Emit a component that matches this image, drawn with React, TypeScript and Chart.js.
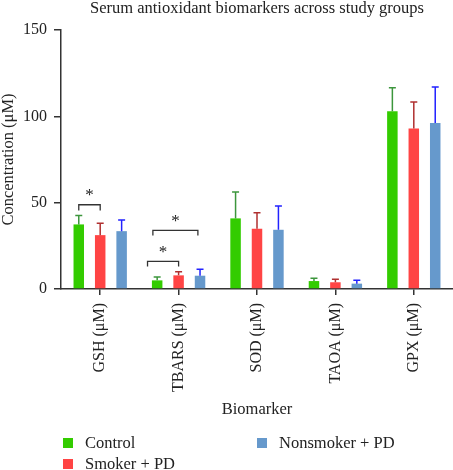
import { useEffect, useRef } from "react";
import { Chart, registerables } from "chart.js";

Chart.register(...registerables);

// Biomarker categories along the x axis
const biomarkers = ["GSH (μM)", "TBARS (μM)", "SOD (μM)", "TAOA (μM)", "GPX (μM)"];

// Study groups
const groupNames = ["Control", "Smoker + PD", "Nonsmoker + PD"];

// Mean concentrations (μM) and their standard deviations
const controlMeans = [37.4, 5.0, 40.9, 4.6, 102.9];
const controlSD = [5.1, 2.0, 15.3, 1.6, 13.7];
const smokerMeans = [31.2, 7.9, 34.9, 3.9, 93.0];
const smokerSD = [6.9, 2.1, 9.3, 1.7, 15.3];
const nonsmokerMeans = [33.5, 7.7, 34.3, 3.1, 96.1];
const nonsmokerSD = [6.4, 3.7, 13.7, 1.9, 20.9];

// y axis ticks
const yTicks = [0, 50, 100, 150];

// Significance comparisons: category index, group span (in group slots) and bracket height (μM)
const sigCategory = [0, 1, 1];
const sigFrom = [0, -0.45, -0.2];
const sigTo = [1, 1, 1.9];
const sigLevel = [48.8, 16, 34];
const sigDrop = [3.3, 3, 3];
const sigMark = ["*", "*", "*"];

const FONT = "'Liberation Serif', 'Times New Roman', serif";
const TEXT = "#222";
const AXIS = "#333";

const barColors = ["#33cc00", "#ff4444", "#6699cc"];
const errColors = ["#3c963c", "#b03030", "#2222ff"];

const errorBarPlugin = {
  id: "errorBars",
  afterDatasetsDraw(chart: any) {
    const { ctx } = chart;
    const yScale = chart.scales.y;
    chart.data.datasets.forEach((ds: any, i: number) => {
      const meta = chart.getDatasetMeta(i);
      meta.data.forEach((bar: any, j: number) => {
        const top = yScale.getPixelForValue(ds.data[j] + ds.errors[j]);
        ctx.save();
        ctx.strokeStyle = ds.errorColor;
        ctx.lineWidth = 1.5;
        ctx.beginPath();
        ctx.moveTo(bar.x, bar.y);
        ctx.lineTo(bar.x, top);
        ctx.moveTo(bar.x - 3.5, top);
        ctx.lineTo(bar.x + 3.5, top);
        ctx.stroke();
        ctx.restore();
      });
    });
  },
};

const bracketPlugin = {
  id: "sigBrackets",
  afterDatasetsDraw(chart: any) {
    const { ctx } = chart;
    const yScale = chart.scales.y;
    const m0 = chart.getDatasetMeta(0);
    const m1 = chart.getDatasetMeta(1);
    sigCategory.forEach((cat, k) => {
      const base = m0.data[cat].x;
      const slot = m1.data[cat].x - base;
      const x1 = base + sigFrom[k] * slot;
      const x2 = base + sigTo[k] * slot;
      const y = yScale.getPixelForValue(sigLevel[k]);
      const yd = yScale.getPixelForValue(sigLevel[k] - sigDrop[k]);
      ctx.save();
      ctx.strokeStyle = AXIS;
      ctx.lineWidth = 1.3;
      ctx.beginPath();
      ctx.moveTo(x1, yd);
      ctx.lineTo(x1, y);
      ctx.lineTo(x2, y);
      ctx.lineTo(x2, yd);
      ctx.stroke();
      ctx.fillStyle = TEXT;
      ctx.font = `17px ${FONT}`;
      ctx.textAlign = "center";
      ctx.textBaseline = "middle";
      ctx.fillText(sigMark[k], (x1 + x2) / 2, y - 9);
      ctx.restore();
    });
  },
};

// Two-row, column-first legend under the axis title
const legendPlugin = {
  id: "columnLegend",
  afterDraw(chart: any) {
    const { ctx } = chart;
    const colX = [63, 257];
    const rowY = [443, 464];
    chart.data.datasets.forEach((ds: any, i: number) => {
      const x = colX[Math.floor(i / 2)];
      const y = rowY[i % 2];
      ctx.save();
      ctx.fillStyle = ds.backgroundColor;
      ctx.fillRect(x, y - 5, 10, 10);
      ctx.fillStyle = TEXT;
      ctx.font = `16.5px ${FONT}`;
      ctx.textAlign = "left";
      ctx.textBaseline = "middle";
      ctx.fillText(ds.label, x + 22, y + 1);
      ctx.restore();
    });
  },
};

export default function App() {
  const canvasRef = useRef<HTMLCanvasElement | null>(null);

  useEffect(() => {
    if (!canvasRef.current) return;
    const means = [controlMeans, smokerMeans, nonsmokerMeans];
    const sds = [controlSD, smokerSD, nonsmokerSD];
    const chart = new Chart(canvasRef.current, {
      type: "bar",
      data: {
        labels: biomarkers,
        datasets: groupNames.map((name, i) => ({
          label: name,
          data: means[i],
          errors: sds[i],
          errorColor: errColors[i],
          backgroundColor: barColors[i],
          borderWidth: 0,
          categoryPercentage: 0.82,
          barPercentage: 0.49,
        })) as any,
      },
      options: {
        responsive: false,
        animation: false,
        layout: { padding: { left: 0, right: 0, top: 0, bottom: 50 } },
        plugins: {
          legend: { display: false },
          tooltip: { enabled: false },
          title: {
            display: true,
            text: "Serum antioxidant biomarkers across study groups",
            fullSize: false,
            color: TEXT,
            font: { family: FONT, size: 16.5, weight: "normal", lineHeight: 1 },
            padding: { top: 0, bottom: 13.5 },
          },
        },
        scales: {
          x: {
            offset: true,
            grid: {
              display: true,
              offset: false,
              drawOnChartArea: false,
              drawTicks: true,
              tickLength: 6,
              color: AXIS,
              lineWidth: 1.5,
            },
            border: { display: true, color: AXIS, width: 1.5 },
            ticks: {
              minRotation: 90,
              maxRotation: 90,
              autoSkip: false,
              padding: 8,
              color: TEXT,
              font: { family: FONT, size: 16 },
            },
            title: {
              display: true,
              text: "Biomarker",
              color: TEXT,
              font: { family: FONT, size: 16.5 },
              padding: { top: 0, bottom: 0 },
            },
            afterFit: (s: any) => {
              s.height = 131;
              s.paddingLeft = 0;
              s.paddingRight = 0;
            },
          },
          y: {
            min: 0,
            max: 150,
            afterBuildTicks: (s: any) => {
              s.ticks = yTicks.map((v) => ({ value: v }));
            },
            grid: {
              display: true,
              drawOnChartArea: false,
              drawTicks: true,
              tickLength: 7,
              color: AXIS,
              lineWidth: 1.5,
            },
            border: { display: true, color: AXIS, width: 1.5 },
            ticks: {
              padding: 7,
              color: TEXT,
              font: { family: FONT, size: 16 },
            },
            title: {
              display: true,
              text: "Concentration (μM)",
              color: TEXT,
              font: { family: FONT, size: 16.5, lineHeight: 1.1 },
              padding: { top: 0, bottom: 0 },
            },
            afterFit: (s: any) => {
              s.width = 61;
            },
          },
        },
      } as any,
      plugins: [errorBarPlugin, bracketPlugin, legendPlugin],
    });
    return () => chart.destroy();
  }, []);

  return (
    <div style={{ position: "absolute", left: 0, top: 0, width: 453, height: 470, background: "#fff" }}>
      <canvas ref={canvasRef} width={453} height={470} style={{ display: "block" }} />
    </div>
  );
}
